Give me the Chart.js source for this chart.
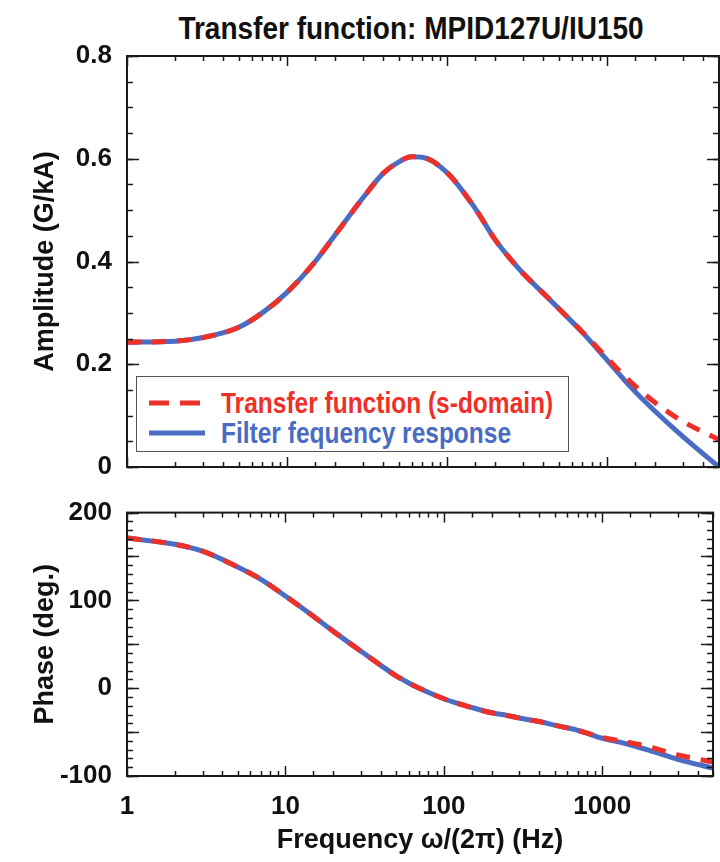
<!DOCTYPE html>
<html>
<head>
<meta charset="utf-8">
<script src="https://cdn.jsdelivr.net/npm/chart.js@4"></script>
<style>
  body { margin: 0; background: #fff; }
  #wrap { position: relative; width: 720px; height: 862px; font-family: 'Liberation Sans', Arial, sans-serif; font-weight: bold; }
  #title { position: absolute; top: 10px; left: 115px; width: 592px; text-align: center; font-size: 32px; color: #111; transform: scaleX(0.875); white-space: nowrap; }
  .box { position: absolute; left: 0; width: 720px; }
  #legend { position: absolute; left: 136px; top: 376px; width: 431px; height: 74px; border: 1.5px solid #555; background: #fff; }
  .row { position: absolute; left: 0; height: 30px; display: flex; align-items: center; white-space: nowrap; }
  .row svg { margin-left: 12px; margin-right: 16px; flex: none; }
  .row span { font-size: 29px; display: inline-block; transform: scaleX(0.845); transform-origin: left center; }
</style>
</head>
<body>
<div id="wrap">
  <div id="title">Transfer function: MPID127U/IU150</div>
  <div class="box" style="top:0;height:490px"><canvas id="ampChart" width="720" height="490"></canvas></div>
  <div class="box" style="top:490px;height:372px"><canvas id="phaseChart" width="720" height="372"></canvas></div>
  <div id="legend"></div>
</div>
<script>
// frequency samples (Hz)
const freq = [1, 2, 3, 5, 7, 10, 15, 20, 30, 40, 50, 60, 70, 100, 150, 200, 250, 300, 400, 500, 700, 1000, 1400, 2000, 3000, 5000];

// amplitude (G/kA)
const ampFilter = [0.243, 0.245, 0.252, 0.272, 0.300, 0.340, 0.400, 0.452, 0.525, 0.572, 0.594, 0.604, 0.603, 0.573, 0.503, 0.442, 0.404, 0.376, 0.338, 0.308, 0.262, 0.208, 0.156, 0.108, 0.058, 0.000];
const ampSdomain = [0.243, 0.245, 0.252, 0.272, 0.300, 0.340, 0.400, 0.452, 0.525, 0.572, 0.594, 0.604, 0.603, 0.573, 0.503, 0.442, 0.404, 0.376, 0.338, 0.308, 0.263, 0.212, 0.166, 0.125, 0.088, 0.053];

// phase (deg.)
const phaseFilter = [171, 164, 156, 138, 124, 105, 82, 65, 42, 26, 14, 6, 0, -12, -22, -28, -31, -34, -38, -42, -48, -57, -63, -71, -81, -91];
const phaseSdomain = [171, 164, 156, 138, 124, 105, 82, 65, 42, 26, 14, 6, 0, -12, -22, -28, -31, -34, -38, -42, -48, -56, -61, -67, -76, -84];

const xTickLabels = [1, 10, 100, 1000];
const legendLabels = ['Transfer function (s-domain)', 'Filter fequency response'];

const RED = '#ee3128';
const BLUE = '#4a6cc2';
const FONT = "'Liberation Sans', Arial, sans-serif";

function pts(ys) {
  return freq.map((f, i) => ({ x: f, y: ys[i] }));
}

// inward ticks on all four sides, plus the frame
const frameTicks = {
  id: 'frameTicks',
  afterDraw(chart, args, opts) {
    const { ctx, chartArea: a, scales: { x, y } } = chart;
    ctx.save();
    ctx.strokeStyle = '#1a1a1a';
    ctx.lineWidth = 1.5;
    const seg = (x1, y1, x2, y2) => { ctx.beginPath(); ctx.moveTo(x1, y1); ctx.lineTo(x2, y2); ctx.stroke(); };

    x.ticks.forEach(t => {
      const px = Math.round(x.getPixelForValue(t.value)) + 0.5;
      const lg = Math.log10(t.value);
      const len = Math.abs(lg - Math.round(lg)) < 1e-9 ? 10 : 5;
      seg(px, a.bottom, px, a.bottom - len);
      seg(px, a.top, px, a.top + len);
    });

    const n = Math.round((y.max - y.min) / opts.minorStep);
    for (let i = 0; i <= n; i++) {
      const py = Math.round(y.getPixelForValue(y.min + i * opts.minorStep)) + 0.5;
      seg(a.left, py, a.left + 6, py);
      seg(a.right, py, a.right - 6, py);
    }
    y.ticks.forEach(t => {
      const py = Math.round(y.getPixelForValue(t.value)) + 0.5;
      seg(a.left, py, a.left + 12, py);
      seg(a.right, py, a.right - 12, py);
    });

    ctx.lineWidth = 2;
    ctx.strokeRect(a.left, a.top, a.right - a.left, a.bottom - a.top);
    ctx.restore();
  }
};

function datasets(redVals, blueVals) {
  return [
    { label: legendLabels[0], data: pts(redVals), borderColor: RED, borderWidth: 5, borderDash: [14, 11], pointRadius: 0, cubicInterpolationMode: 'monotone', fill: false },
    { label: legendLabels[1], data: pts(blueVals), borderColor: BLUE, borderWidth: 5, pointRadius: 0, cubicInterpolationMode: 'monotone', fill: false }
  ];
}

function xScale(showLabels, height) {
  return {
    type: 'logarithmic',
    min: 1,
    max: 5000,
    grid: { display: false },
    border: { display: false },
    ticks: {
      display: showLabels,
      autoSkip: false,
      maxRotation: 0,
      padding: 7,
      color: '#111',
      font: { family: FONT, size: 26, weight: 'bold' },
      callback: v => xTickLabels.includes(v) ? String(v) : ''
    },
    title: {
      display: showLabels,
      text: 'Frequency \u03c9/(2\u03c0) (Hz)',
      color: '#111',
      font: { family: FONT, size: 27, weight: 'bold' },
      padding: { top: 0, bottom: 5 }
    },
    afterFit(s) { s.height = height; }
  };
}

function yScale(min, max, step, label, fmt) {
  return {
    min: min,
    max: max,
    grid: { display: false },
    border: { display: false },
    ticks: {
      stepSize: step,
      padding: 7,
      color: '#111',
      font: { family: FONT, size: 26, weight: 'bold' },
      callback: fmt
    },
    title: {
      display: true,
      text: label,
      color: '#111',
      font: { family: FONT, size: 27, weight: 'bold' },
      padding: { top: 29, bottom: 0 }
    },
    afterFit(s) { s.width = 127; }
  };
}

Chart.defaults.animation = false;

const ampChart = new Chart(document.getElementById('ampChart'), {
  type: 'line',
  data: { datasets: datasets(ampSdomain, ampFilter) },
  options: {
    responsive: false,
    layout: { padding: { top: 56, right: 1, left: 0, bottom: 0 } },
    plugins: { legend: { display: false }, tooltip: { enabled: false }, frameTicks: { minorStep: 0.05 } },
    scales: {
      x: xScale(false, 23),
      y: yScale(0, 0.8, 0.2, 'Amplitude (G/kA)', v => String(Math.round(v * 10) / 10))
    }
  },
  plugins: [frameTicks]
});

const phaseChart = new Chart(document.getElementById('phaseChart'), {
  type: 'line',
  data: { datasets: datasets(phaseSdomain, phaseFilter) },
  options: {
    responsive: false,
    layout: { padding: { top: 14, right: 1, left: 0, bottom: 0 } },
    plugins: { legend: { display: false }, tooltip: { enabled: false }, frameTicks: { minorStep: 10 } },
    scales: {
      x: xScale(true, 86),
      y: yScale(-100, 200, 50, 'Phase (deg.)', v => (v % 100 === 0 ? String(v) : ''))
    }
  },
  plugins: [frameTicks]
});

// HTML legend built from the amplitude chart's datasets
const legendEl = document.getElementById('legend');
ampChart.data.datasets.forEach((ds, i) => {
  const row = document.createElement('div');
  row.className = 'row';
  row.style.top = (11 + i * 30) + 'px';
  const dash = ds.borderDash ? `stroke-dasharray="20 11"` : '';
  row.innerHTML = `<svg width="56" height="10"><line x1="0" y1="5" x2="56" y2="5" stroke="${ds.borderColor}" stroke-width="5" ${dash}/></svg>` +
    `<span style="color:${ds.borderColor}">${ds.label}</span>`;
  legendEl.appendChild(row);
});
</script>
</body>
</html>
